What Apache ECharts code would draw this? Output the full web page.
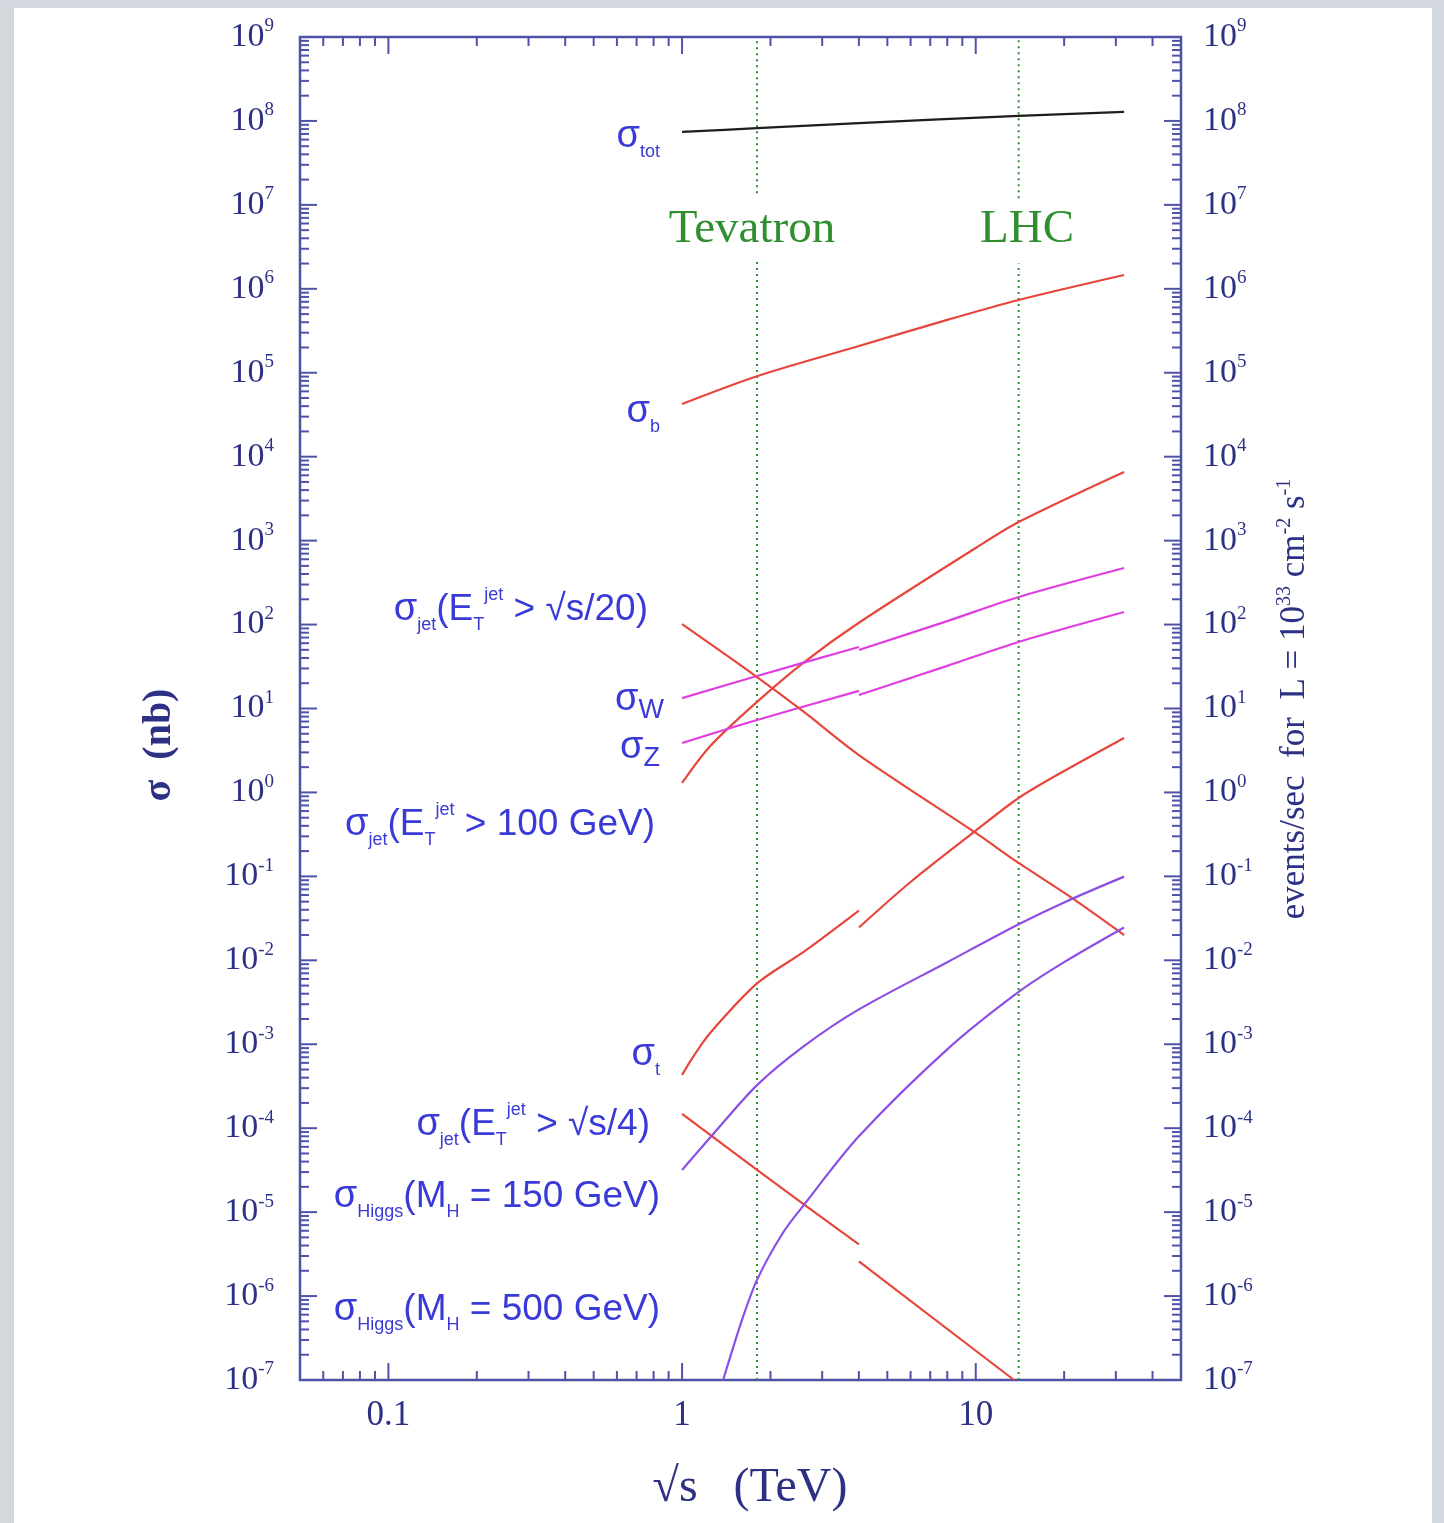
<!DOCTYPE html>
<html><head><meta charset="utf-8">
<script src="https://cdn.jsdelivr.net/npm/echarts@6/dist/echarts.min.js"></script>
<style>
html,body{margin:0;padding:0;width:1444px;height:1523px;overflow:hidden;background:#d3d8df;}
#panel{position:absolute;left:14px;top:8px;width:1418px;height:1515px;background:#fff;}
#chart{position:absolute;left:0;top:0;width:1444px;height:1523px;}
</style></head><body><div id="panel"></div><div id="chart"></div>
<script>
// ---------------- data (sqrt(s) in TeV, sigma in nb) ----------------
const sigmaTot   = [[1,7.4e7],[1.8,8.2e7],[4,9.4e7],[14,1.15e8],[32,1.28e8]];
const sigmaB     = [[1,4.25e4],[1.8,9.1e4],[4,2.08e5],[8,4.26e5],[14,7.36e5],[32,1.46e6]];
const jetS20     = [[1,1.30],[1.25,3.6],[1.8,12.0],[2.6,35.5],[4,105],[10,817],[14,1667],[32,6580]];
const sigmaWppbar= [[1,13.3],[1.8,24.4],[4,54.1]];
const sigmaWpp   = [[4,49.8],[8,110],[14,213],[32,472]];
const sigmaZppbar= [[1,3.88],[1.8,7.29],[4,16.2]];
const sigmaZpp   = [[4,14.5],[8,32.2],[14,62.1],[32,141]];
const jet100     = [[1,101],[1.8,23.7],[2.6,9.1],[4,2.79],[10,0.329],[14,0.1445],[21,0.0569],[32,0.0200]];
const topPpbar   = [[1,4.31e-4],[1.1,7.4e-4],[1.25,1.38e-3],[1.8,5.30e-3],[2.6,0.0127],[4,0.0392]];
const topPp      = [[4,0.0246],[6,0.0857],[10,0.35],[14,0.859],[20,1.80],[32,4.46]];
const jetS4ppbar = [[1,1.48e-4],[1.8,3.18e-5],[4,4.12e-6]];
const jetS4pp    = [[4,2.59e-6],[13.5,1.0e-7]];
const higgs150   = [[1,3.18e-5],[1.26,8.07e-5],[1.8,3.26e-4],[2.6,9.5e-4],[4,2.6e-3],[8,9.5e-3],[14,0.0269],[20,0.049],[32,0.0993]];
const higgs500   = [[1.38,1.0e-7],[1.6,5.2e-7],[1.8,1.56e-6],[2.2,5.6e-6],[2.6,1.22e-5],[4,8.0e-5],[8,8.7e-4],[14,4.2e-3],[20,9.5e-3],[32,0.0246]];
// collider energies (vertical dotted lines, gap where the names sit)
const tevLow  = [[1.8,1e-7],[1.8,2.2e6]];
const tevHigh = [[1.8,1.38e7],[1.8,1e9]];
const lhcLow  = [[14,1e-7],[14,2.0e6]];
const lhcHigh = [[14,1.2e7],[14,1e9]];
// axes
const X_MIN = 0.05, X_MAX = 50, Y_MIN = 1e-7, Y_MAX = 1e9;
const xTickLabels = {'-1':'0.1','0':'1','1':'10'};
const xMajorTicks = [0.1, 1, 10];
const xMinorTicks = [0.06,0.07,0.08,0.09,0.2,0.3,0.4,0.5,0.6,0.7,0.8,0.9,2,3,4,5,6,7,8,9,20,30,40];
const yDecades = [-7,-6,-5,-4,-3,-2,-1,0,1,2,3,4,5,6,7,8,9];
const minorMult = [2,3,4,5,6,7,8,9];

// ---------------- styles ----------------
const AXIS = '#4e53a8', LABEL = '#2c3184', RED = '#e6463b', MAG = '#e03ee0',
      PURP = '#8b4fe6', BLACK = '#1d1d1d', GREEN = '#2f8f2f', BLUE = '#3a3ad8';

const tickData = [];
xMajorTicks.forEach(v => tickData.push([v, Y_MIN, 1, 0]));
xMinorTicks.forEach(v => tickData.push([v, Y_MIN, 0, 0]));
yDecades.forEach(e => {
  tickData.push([X_MIN, Math.pow(10, e), 1, 1]);
  if (e < 9) minorMult.forEach(m => tickData.push([X_MIN, m * Math.pow(10, e), 0, 1]));
});

function renderTick(params, api) {
  const major = api.value(2), kind = api.value(3);
  const len = major ? 17 : 9;
  const st = {stroke: AXIS, lineWidth: 2};
  if (kind === 0) {
    const v = api.value(0);
    const b = api.coord([v, Y_MIN]), t = api.coord([v, Y_MAX]);
    return {type: 'group', children: [
      {type: 'line', shape: {x1: b[0], y1: b[1], x2: b[0], y2: b[1] - len}, style: st},
      {type: 'line', shape: {x1: t[0], y1: t[1], x2: t[0], y2: t[1] + len}, style: st}]};
  }
  const v = api.value(1);
  const l = api.coord([X_MIN, v]), r = api.coord([X_MAX, v]);
  return {type: 'group', children: [
    {type: 'line', shape: {x1: l[0], y1: l[1], x2: l[0] + len, y2: l[1]}, style: st},
    {type: 'line', shape: {x1: r[0], y1: r[1], x2: r[0] - len, y2: r[1]}, style: st}]};
}

function curve(name, data, color) {
  return {type: 'line', name, data, symbol: 'none', showSymbol: false, smooth: 0.3,
          lineStyle: {color, width: 2.2}, clip: true, z: 3, animation: false};
}
function vline(name, data) {
  return {type: 'line', name, data, symbol: 'none', showSymbol: false,
          lineStyle: {color: GREEN, width: 2, type: [2, 4]}, z: 2, animation: false};
}

function powLabel(v) {
  const e = Math.round(Math.log10(v));
  return '{b|10}{s|' + e + '}';
}
const yRich = {
  b: {fontFamily: 'Liberation Serif', fontSize: 34, color: LABEL, lineHeight: 40},
  s: {fontFamily: 'Liberation Serif', fontSize: 19, color: LABEL, lineHeight: 20, verticalAlign: 'top'}
};

// inline label rich styles
const F = 'Liberation Sans';
const labRich = {
  g:   {fontFamily: F, fontSize: 38, fill: BLUE, lineHeight: 48},
  m:   {fontFamily: F, fontSize: 37, fill: BLUE, lineHeight: 48},
  sub: {fontFamily: F, fontSize: 18, fill: BLUE, lineHeight: 20, verticalAlign: 'bottom'},
  subL:{fontFamily: F, fontSize: 27, fill: BLUE, lineHeight: 27, verticalAlign: 'bottom'},
  sup: {fontFamily: F, fontSize: 18, fill: BLUE, lineHeight: 20, verticalAlign: 'top'}
};
function lab(x, y, text) {
  return {type: 'text', x, y, z: 10, style: {text, rich: labRich, align: 'right', verticalAlign: 'middle', fill: BLUE}};
}

const chart = echarts.init(document.getElementById('chart'), null, {renderer: 'canvas'});
chart.setOption({
  animation: false,
  backgroundColor: 'transparent',
  grid: {left: 300, top: 37, right: 263, bottom: 143, show: true, borderColor: AXIS, borderWidth: 2.5},
  xAxis: [{
    type: 'log', logBase: 10, min: X_MIN, max: X_MAX,
    axisLine: {show: false}, axisTick: {show: false}, splitLine: {show: false}, minorTick: {show: false},
    axisLabel: {margin: 18, color: LABEL, fontFamily: 'Liberation Serif', fontSize: 35,
      showMinLabel: false, showMaxLabel: false,
      formatter: v => { const e = Math.log10(v); const r = Math.round(e);
        return Math.abs(e - r) < 1e-6 && xTickLabels[r] !== undefined ? xTickLabels[r] : ''; }}
  }],
  yAxis: [{
    type: 'log', logBase: 10, min: Y_MIN, max: Y_MAX, interval: 1,
    axisLine: {show: false}, axisTick: {show: false}, splitLine: {show: false},
    axisLabel: {margin: 26, formatter: powLabel, rich: yRich}
  }, {
    type: 'log', logBase: 10, min: Y_MIN, max: Y_MAX, interval: 1, position: 'right',
    axisLine: {show: false}, axisTick: {show: false}, splitLine: {show: false},
    axisLabel: {margin: 22, formatter: powLabel, rich: yRich}
  }],
  series: [
    {type: 'custom', name: 'ticks', renderItem: renderTick, data: tickData, clip: false, silent: true, z: 4},
    vline('Tevatron low', tevLow), vline('Tevatron high', tevHigh),
    vline('LHC low', lhcLow), vline('LHC high', lhcHigh),
    curve('sigma_tot', sigmaTot, BLACK),
    curve('sigma_b', sigmaB, RED),
    curve('jet sqrt(s)/20', jetS20, RED),
    curve('W ppbar', sigmaWppbar, MAG), curve('W pp', sigmaWpp, MAG),
    curve('Z ppbar', sigmaZppbar, MAG), curve('Z pp', sigmaZpp, MAG),
    curve('jet 100 GeV', jet100, RED),
    curve('top ppbar', topPpbar, RED), curve('top pp', topPp, RED),
    curve('jet sqrt(s)/4 ppbar', jetS4ppbar, RED), curve('jet sqrt(s)/4 pp', jetS4pp, RED),
    curve('Higgs 150', higgs150, PURP),
    curve('Higgs 500', higgs500, PURP)
  ],
  graphic: [
    lab(660, 137, '{g|σ}{sub|tot}'),
    lab(660, 412, '{g|σ}{sub|b}'),
    lab(648, 610, '{g|σ}{sub|jet}{m|(E}{sub|T}{sup|jet}{m| > √s/20)}'),
    lab(664, 700, '{g|σ}{subL|W}'),
    lab(660, 748, '{g|σ}{subL|Z}'),
    lab(655, 825, '{g|σ}{sub|jet}{m|(E}{sub|T}{sup|jet}{m| > 100 GeV)}'),
    lab(660, 1055, '{g|σ}{sub|t}'),
    lab(650, 1125, '{g|σ}{sub|jet}{m|(E}{sub|T}{sup|jet}{m| > √s/4)}'),
    lab(660, 1197, '{g|σ}{sub|Higgs}{m|(M}{sub|H}{m| = 150 GeV)}'),
    lab(660, 1310, '{g|σ}{sub|Higgs}{m|(M}{sub|H}{m| = 500 GeV)}'),
    {type: 'text', x: 752, y: 230, z: 10, style: {text: 'Tevatron', fill: GREEN, font: '47px "Liberation Serif"', align: 'center', verticalAlign: 'middle'}},
    {type: 'text', x: 1027, y: 230, z: 10, style: {text: 'LHC', fill: GREEN, font: '47px "Liberation Serif"', align: 'center', verticalAlign: 'middle'}},
    {type: 'text', x: 160, y: 745, rotation: Math.PI / 2, z: 10, style: {text: 'σ  (nb)', fill: LABEL, font: 'bold 40px "Liberation Serif"', align: 'center', verticalAlign: 'middle'}},
    {type: 'text', x: 750, y: 1488, z: 10, style: {text: '√s   (TeV)', fill: LABEL, font: '48px "Liberation Serif"', align: 'center', verticalAlign: 'middle'}},
    {type: 'text', x: 1295, y: 699, rotation: Math.PI / 2, z: 10, style: {
      text: '{t|events/sec  for  L = 10}{p|33}{t| cm}{p|-2}{t| s}{p|-1}', align: 'center', verticalAlign: 'middle', fill: LABEL,
      rich: {t: {fontFamily: 'Liberation Serif', fontSize: 35, fill: LABEL, lineHeight: 40},
             p: {fontFamily: 'Liberation Serif', fontSize: 20, fill: LABEL, lineHeight: 20, verticalAlign: 'top'}}}}
  ]
});
</script></body></html>
